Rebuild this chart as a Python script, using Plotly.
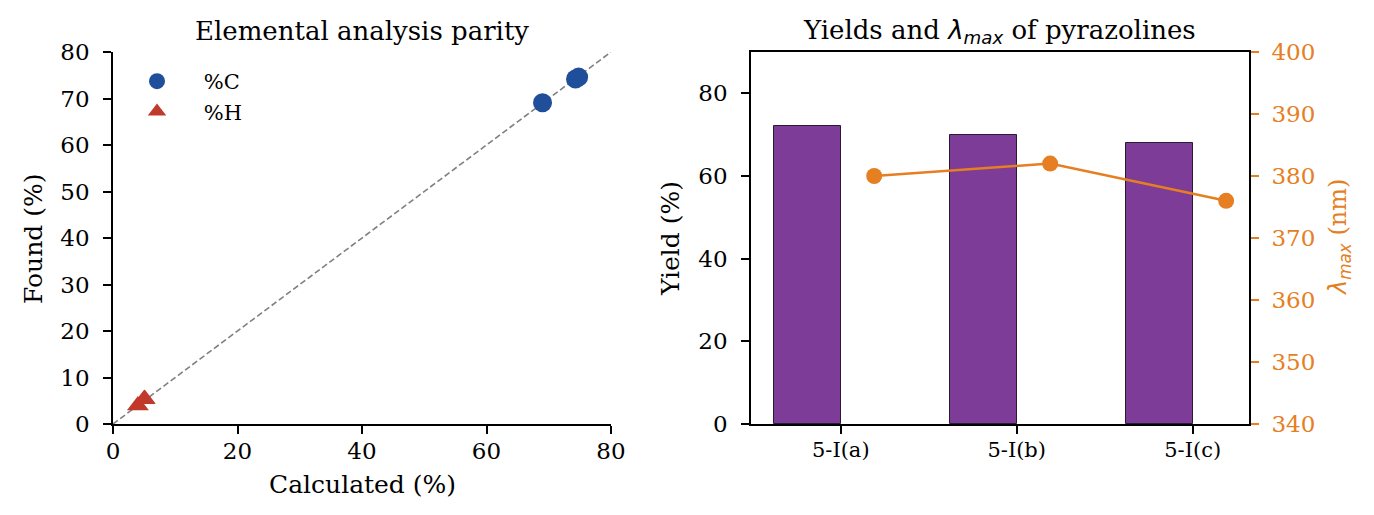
import plotly.graph_objects as go

# Elemental analysis (calculated vs found, %)
c_calc = [69.0, 74.3, 74.8]
c_found = [69.1, 74.2, 74.6]
h_calc = [4.0, 5.0, 5.1]
h_found = [4.0, 5.3, 5.4]

# Pyrazolines
compounds = ["5-I(a)", "5-I(b)", "5-I(c)"]
yields = [72, 70, 68]
lambda_max = [380, 382, 376]

FONT = "DejaVu Serif"
BLUE = "#1F4E9A"
RED = "#C0392B"
PURPLE = "#7D3C98"
ORANGE = "#E67E22"

W, H = 1374, 515
OFF = 8  # page body margin


def px_x(v):
    return (v - OFF) / W


def px_y(v):
    return 1 - (v - OFF) / H


idx = list(range(len(compounds)))
bar_w = 0.38
pad = "\u00a0" * 4

fig = go.Figure()

# parity line
fig.add_trace(go.Scatter(
    x=[0, 80], y=[0, 80], mode="lines",
    line=dict(color="gray", width=1.6, dash="6px,3px"),
    showlegend=False, hoverinfo="skip",
    xaxis="x", yaxis="y"
))
fig.add_trace(go.Scatter(
    x=c_calc, y=c_found, mode="markers", name=pad + "%C",
    marker=dict(color=BLUE, size=19, symbol="circle"),
    xaxis="x", yaxis="y"
))
fig.add_trace(go.Scatter(
    x=h_calc, y=h_found, mode="markers", name=pad + "%H",
    marker=dict(color=RED, size=19, symbol="triangle-up"),
    xaxis="x", yaxis="y"
))

# yields bars
fig.add_trace(go.Bar(
    x=[i - bar_w / 2 for i in idx], y=yields, width=bar_w,
    marker=dict(color=PURPLE, line=dict(color="#2b1a33", width=1)),
    showlegend=False, xaxis="x2", yaxis="y2"
))
# lambda max line
fig.add_trace(go.Scatter(
    x=[i + bar_w / 2 for i in idx], y=lambda_max, mode="lines+markers",
    line=dict(color=ORANGE, width=2.5),
    marker=dict(color=ORANGE, size=16),
    showlegend=False, xaxis="x2", yaxis="y3"
))

y_dom = [px_y(424), px_y(52)]
TICK = 23
axis_common = dict(
    showgrid=False, zeroline=False, showline=True, linecolor="black",
    linewidth=1.6, ticks="outside", ticklen=8, tickwidth=1.6, automargin=False,
    tickcolor="black", tickfont=dict(family=FONT, size=TICK, color="black"),
)

fig.update_layout(
    template="none",
    width=W, height=H,
    margin=dict(l=0, r=0, t=0, b=0, pad=0),
    paper_bgcolor="white", plot_bgcolor="white",
    font=dict(family=FONT, color="black"),
    bargap=0,
    xaxis=dict(
        axis_common, domain=[px_x(113), px_x(611)], range=[0, 80],
        tickvals=[0, 20, 40, 60, 80], anchor="y", ticklabelstandoff=-2,
    ),
    yaxis=dict(
        axis_common, domain=y_dom, range=[0, 80],
        tickvals=list(range(0, 81, 10)), anchor="x", ticklabelstandoff=9,
    ),
    xaxis2=dict(
        axis_common, domain=[px_x(751), px_x(1249)], range=[-0.51, 2.32],
        tickvals=idx, ticktext=compounds, anchor="y2", mirror=True,
        ticklabelstandoff=-2,
        tickfont=dict(family=FONT, size=21, color="black"),
    ),
    yaxis2=dict(
        axis_common, domain=y_dom, range=[0, 90],
        tickvals=list(range(0, 81, 20)), anchor="x2", ticklabelstandoff=9,
    ),
    yaxis3=dict(
        axis_common, range=[340, 400], tickvals=list(range(340, 401, 10)),
        overlaying="y2", side="right", anchor="x2", ticklabelstandoff=8,
        tickcolor=ORANGE, tickfont=dict(family=FONT, size=TICK, color=ORANGE),
    ),
    legend=dict(
        x=px_x(137), y=px_y(61), xanchor="left", yanchor="top",
        bgcolor="rgba(0,0,0,0)", font=dict(family=FONT, size=21),
        tracegroupgap=0,
    ),
    annotations=[
        dict(text="Elemental analysis parity", x=px_x(361.5), y=px_y(31),
             xref="paper", yref="paper", showarrow=False,
             xanchor="center", yanchor="middle",
             font=dict(family=FONT, size=26)),
        dict(text="Yields and <span style='font-family:DejaVu Sans'><i>λ</i>"
                  "<sub><i>max</i></sub></span> of pyrazolines",
             x=px_x(999), y=px_y(31),
             xref="paper", yref="paper", showarrow=False,
             xanchor="center", yanchor="middle",
             font=dict(family=FONT, size=26)),
        dict(text="Calculated (%)", x=px_x(362), y=px_y(484),
             xref="paper", yref="paper", showarrow=False,
             xanchor="center", yanchor="middle",
             font=dict(family=FONT, size=25)),
        dict(text="Found (%)", x=px_x(33), y=px_y(239), textangle=-90,
             xref="paper", yref="paper", showarrow=False,
             xanchor="center", yanchor="middle",
             font=dict(family=FONT, size=25)),
        dict(text="Yield (%)", x=px_x(670), y=px_y(239), textangle=-90,
             xref="paper", yref="paper", showarrow=False,
             xanchor="center", yanchor="middle",
             font=dict(family=FONT, size=25)),
        dict(text="<span style='font-family:DejaVu Sans'><i>λ</i>"
                  "<sub><i>max</i></sub></span> (nm)",
             x=px_x(1339), y=px_y(238), textangle=-90,
             xref="paper", yref="paper", showarrow=False,
             xanchor="center", yanchor="middle",
             font=dict(family=FONT, size=24, color=ORANGE)),
    ],
)

fig.write_html("out.html")
